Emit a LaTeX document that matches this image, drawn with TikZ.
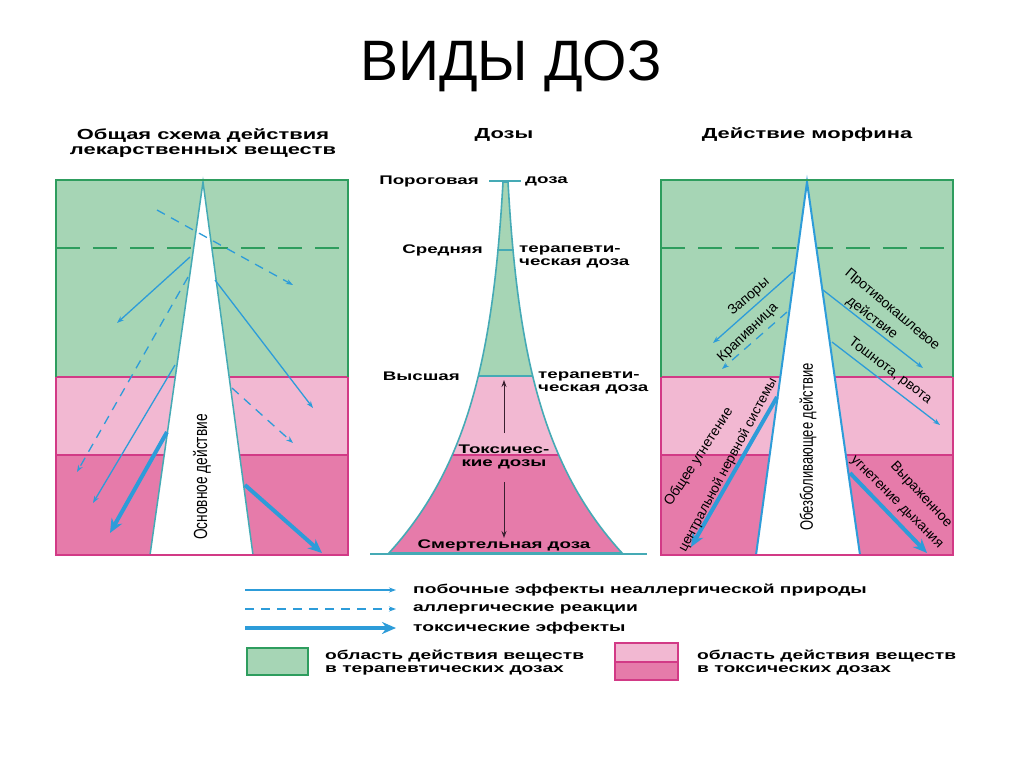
\documentclass[tikz,border=0pt]{standalone}
\usepackage{fontspec}
\setmainfont{Liberation Sans}
\newfontfamily\wideFont[FakeStretch=1.5]{Liberation Sans}
\newfontfamily\narrowFont[FakeStretch=0.72]{Liberation Sans}
\usetikzlibrary{arrows.meta,calc,positioning}
\definecolor{greenFill}{HTML}{A6D5B5}
\definecolor{greenEdge}{HTML}{2E9D5E}
\definecolor{pinkLight}{HTML}{F2B8D2}
\definecolor{pinkDark}{HTML}{E67BAA}
\definecolor{magentaEdge}{HTML}{D23A86}
\definecolor{arrowBlue}{HTML}{2D9CD9}
\definecolor{tealEdge}{HTML}{45AAB5}
\definecolor{darkArrow}{HTML}{3A2030}

\begin{document}
\begin{tikzpicture}[x=1pt,y=-1pt,
  thinArrow/.style={arrowBlue,line width=1.3pt,-{Stealth[length=7pt,width=5pt]}},
  dashArrow/.style={thinArrow,dash pattern=on 9pt off 7pt},
  thickArrow/.style={arrowBlue,line width=4pt,-{Stealth[length=14pt,width=12pt]}},
  headLbl/.style={font=\wideFont\bfseries\fontsize{14.6}{15}\selectfont,inner sep=0pt,align=center},
  doseLbl/.style={font=\wideFont\bfseries\fontsize{12.5}{13}\selectfont,inner sep=0pt,align=left},
  legLbl/.style={font=\wideFont\bfseries\fontsize{12.8}{12.5}\selectfont,inner sep=0pt,align=left,anchor=west},
  slantLbl/.style={font=\fontsize{14}{14}\selectfont,inner sep=0pt},
  upLbl/.style={font=\narrowFont\fontsize{19}{19}\selectfont,inner sep=0pt,rotate=90}]
\useasboundingbox[fill=white] (0,0) rectangle (1024,768);

% title
\node[font=\fontsize{57}{60}\selectfont,inner sep=0pt] (title) at (511,66) {ВИДЫ ДОЗ};

% panel frames
\foreach \px in {56,661}{
  \fill[greenFill] (\px,180) rectangle ({\px+292},377);
  \fill[pinkLight] (\px,377) rectangle ({\px+292},455);
  \fill[pinkDark] (\px,455) rectangle ({\px+292},555);
  \draw[greenEdge,line width=1.6pt,dash pattern=on 24pt off 13pt] (\px,248) -- ({\px+292},248);
  \draw[magentaEdge,line width=1.6pt] (\px,377) -- ({\px+292},377) (\px,455) -- ({\px+292},455);
}
% wedges
\filldraw[fill=white,draw=tealEdge,line width=1.5pt] (150,555) -- (203,182) -- (253,555);
\filldraw[fill=white,draw=arrowBlue,line width=2pt] (756,555) -- (807,182) -- (860,555);
\foreach \px in {56,661}{
  \draw[greenEdge,line width=1.8pt] (\px,377) -- (\px,180) -- ({\px+292},180) -- ({\px+292},377);
  \draw[magentaEdge,line width=1.8pt] (\px,377) -- (\px,555) -- ({\px+292},555) -- ({\px+292},377);
}

\node[headLbl] (leftHead) at (203,143) {Общая схема действия\\лекарственных веществ};
\node[headLbl] (midHead) at (504,135) {Дозы};
\node[headLbl] (rightHead) at (807,135) {Действие морфина};

% left panel arrows
\foreach \n/\xa/\ya/\xb/\yb/\s in {1/157/210/293/285/dashArrow, 2/190/257/117/323/thinArrow,
    3/188/277/77/472/dashArrow, 4/215/280/313/408/thinArrow, 5/175/365/93/503/thinArrow,
    6/232/388/293/443/dashArrow, 7/167/432/110/533/thickArrow, 8/245/485/322/553/thickArrow}{
  \coordinate (ls\n) at (\xa,\ya);
  \coordinate (le\n) at (\xb,\yb);
  \draw[\s] (ls\n) -- (le\n);
}
\node[upLbl] (mainAct) at (202,477) {Основное действие};

% middle: dose cone
\path[save path=\doseOutline]
  plot[domain=553:182,samples=70] ({503-7.5*(exp(0.0075*(\x-182))-1)},\x)
  -- plot[domain=182:553,samples=70] ({508+7.5*(exp(0.0075*(\x-182))-1)},\x) -- cycle;
\fill[pinkDark,use path=\doseOutline];
\begin{scope}
  \clip[use path=\doseOutline];
  \fill[greenFill] (370,170) rectangle (650,376);
  \fill[pinkLight] (370,376) rectangle (650,455);
\end{scope}
\draw[tealEdge,line width=1.5pt] (478,376) -- (533,376) (497,250) -- (514,250) (489,181) -- (521,181);
\draw[magentaEdge,line width=1.5pt] (452,455) -- (559,455);
\draw[tealEdge,line width=1.6pt,use path=\doseOutline];
\draw[tealEdge,line width=1.6pt] (370,554) -- (647,554);

\node[doseLbl,anchor=east] (thrA) at (479,181) {Пороговая};
\node[doseLbl,anchor=west] (thrB) at (525,181) {доза};
\node[doseLbl,anchor=east] (avgA) at (483,250) {Средняя};
\node[doseLbl,anchor=west] (avgB) at (519,257) {терапевти-\\ческая доза};
\node[doseLbl,anchor=east] (maxA) at (460,376) {Высшая};
\node[doseLbl,anchor=west] (maxB) at (538,383) {терапевти-\\ческая доза};
\node[doseLbl,align=center] (toxLbl) at (504,457) {Токсичес-\\кие дозы};
\node[doseLbl] (lethLbl) at (504,545) {Смертельная доза};
\coordinate (upS) at (504,433);
\coordinate (upE) at (504,380);
\coordinate (dnS) at (504,482);
\coordinate (dnE) at (504,538);
\draw[darkArrow,line width=1pt,-{Stealth[length=7pt,width=5pt]}] (upS) -- (upE);
\draw[darkArrow,line width=1pt,-{Stealth[length=7pt,width=5pt]}] (dnS) -- (dnE);

% right panel arrows
\foreach \n/\xa/\ya/\xb/\yb/\s in {1/793/272/713/343/thinArrow, 2/787/312/722/369/dashArrow,
    3/823/290/923/368/thinArrow, 4/832/342/940/425/thinArrow,
    5/777/397/691/547/thickArrow, 6/850/473/927/553/thickArrow}{
  \coordinate (rs\n) at (\xa,\ya);
  \coordinate (re\n) at (\xb,\yb);
  \draw[\s] (rs\n) -- (re\n);
}
\node[upLbl,font=\narrowFont\fontsize{18}{18}\selectfont] (painAct) at (808,447) {Обезболивающее действие};
\node[slantLbl,rotate=41] (constip) at (749,297) {Запоры};
\node[slantLbl,rotate=44] (urtic) at (748,333) {Крапивница};
\node[slantLbl,rotate=-40] (cough1) at (892,310) {Противокашлевое};
\node[slantLbl,rotate=-38] (cough2) at (872,318) {действие};
\node[slantLbl,rotate=-37] (nausea) at (890,371) {Тошнота, рвота};
\node[slantLbl,rotate=57] (cns1) at (699,457) {Общее угнетение};
\node[slantLbl,rotate=62,font=\fontsize{13.5}{14}\selectfont] (cns2) at (728,465) {центральной нервной системы};
\node[slantLbl,rotate=-47] (resp1) at (921,495) {Выраженное};
\node[slantLbl,rotate=-45] (resp2) at (896,503) {угнетение дыхания};

% legend
\foreach \n/\y/\s/\t in {1/590/thinArrow/побочные эффекты неаллергической природы,
    2/609/dashArrow/аллергические реакции, 3/628/thickArrow/токсические эффекты}{
  \coordinate (gs\n) at (245,\y);
  \coordinate (ge\n) at (396,\y);
  \draw[\s] (gs\n) -- (ge\n);
  \node[legLbl] (gt\n) at (413,\y) {\t};
}
\filldraw[fill=greenFill,draw=greenEdge,line width=2pt] (247,648) rectangle (308,675);
\node[legLbl] (boxTher) at (325,662.5) {область действия веществ\\в терапевтических дозах};
\fill[pinkLight] (615,643) rectangle (678,662);
\fill[pinkDark] (615,662) rectangle (678,680);
\draw[magentaEdge,line width=2pt] (615,643) rectangle (678,680) (615,662) -- (678,662);
\node[legLbl] (boxTox) at (697,662.5) {область действия веществ\\в токсических дозах};
\end{tikzpicture}
\end{document}
